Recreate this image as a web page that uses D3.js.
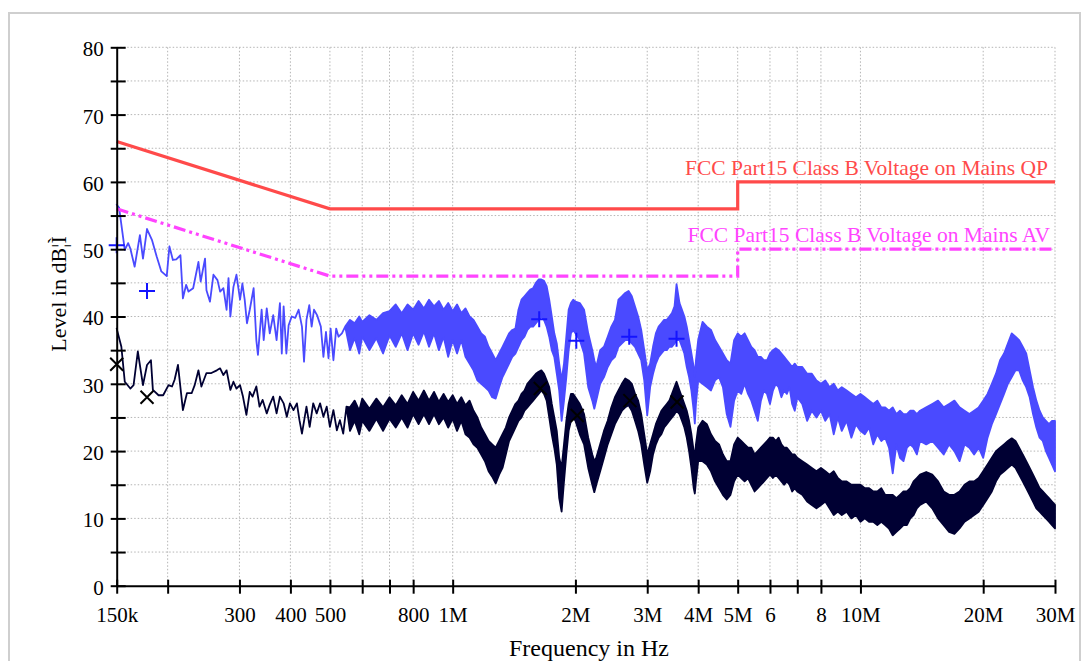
<!DOCTYPE html>
<html>
<head>
<meta charset="utf-8">
<script src="https://cdn.jsdelivr.net/npm/d3@7"></script>
<style>
  body { margin: 0; background: #fff; }
  svg { display: block; font-family: "Liberation Serif", "Times New Roman", serif; }
  .grid line { stroke: #b5b5b5; stroke-width: 1; stroke-dasharray: 1.5,2; }
  .axis path, .axis line { stroke: #000; stroke-width: 2; }
  .axis text { font-size: 21px; fill: #000; font-family: "Liberation Serif", "Times New Roman", serif; }
</style>
</head>
<body>
<div id="chart"></div>
<script>
// frequencies in MHz, levels in dBuV
const xTicks = [0.15, 0.2, 0.3, 0.4, 0.5, 0.6, 0.7, 0.8, 1, 2, 3, 4, 5, 6, 7, 8, 10, 20, 30];
const xTickLabels = ['150k', '', '300', '400', '500', '', '', '800', '1M', '2M', '3M', '4M', '5M', '6', '', '8', '10M', '20M', '30M'];
const yTicks = [0, 5, 10, 15, 20, 25, 30, 35, 40, 45, 50, 55, 60, 65, 70, 75, 80];
const yTickLabels = ['0', '', '10', '', '20', '', '30', '', '40', '', '50', '', '60', '', '70', '', '80'];

const qpLimit = [[0.15, 66], [0.5, 56], [5, 56], [5, 60], [30, 60]];
const avLimit = [[0.15, 56], [0.5, 46], [5, 46], [5, 50], [30, 50]];
const qpLabel = 'FCC Part15 Class B Voltage on Mains QP';
const avLabel = 'FCC Part15 Class B Voltage on Mains AV';

// peak scan: [f, level] where it is a single line, [f, low, high] where it is a dense band
const peakScan = [
  [0.150,56.6],[0.152,56.2],[0.157,49.9],[0.160,50.9],[0.162,50.1],[0.166,47.4],[0.171,52.1],[0.174,48.6],
  [0.178,53.0],[0.183,51.4],[0.188,48.9],[0.193,46.7],[0.199,46.0],[0.202,50.4],[0.206,48.4],[0.210,48.5],
  [0.215,49.1],[0.218,42.7],[0.222,44.7],[0.225,43.7],[0.231,44.2],[0.238,48.1],[0.241,45.2],[0.247,48.6],
  [0.249,43.9],[0.254,42.2],[0.259,46.2],[0.265,45.4],[0.269,43.7],[0.274,44.2],[0.279,41.0],[0.282,45.7],
  [0.285,40.0],[0.290,44.4],[0.295,46.2],[0.301,42.5],[0.305,44.9],[0.309,42.5],[0.313,39.0],[0.318,41.0],
  [0.325,44.2],[0.330,36.5],[0.333,34.3],[0.340,41.0],[0.344,36.5],[0.350,41.2],[0.356,37.5],[0.363,40.2],
  [0.370,36.5],[0.377,42.0],[0.381,34.5],[0.385,41.5],[0.391,34.5],[0.396,38.7],[0.403,40.0],[0.411,39.8],
  [0.419,41.0],[0.427,38.5],[0.432,33.3],[0.438,39.5],[0.445,41.7],[0.451,38.5],[0.457,41.0],[0.465,40.2],
  [0.475,38.5],[0.482,34.0],[0.489,37.7],[0.496,33.8],[0.502,38.2],[0.510,33.5],[0.518,38.2],[0.525,37.0],
  [0.535,37.5],[0.545,38.5],
  [0.56,35.0,39.5],[0.575,36.8,39.0],[0.59,34.5,40.0],[0.60,37.0,39.2],[0.625,35.0,40.2],[0.65,36.8,39.5],
  [0.675,34.5,40.5],[0.70,37.2,40.8],[0.725,35.5,41.8],[0.75,37.5,40.5],[0.775,35.0,41.8],[0.80,37.5,41.0],
  [0.825,35.8,42.3],[0.85,37.8,41.2],[0.875,35.5,42.5],[0.90,37.5,41.5],[0.925,35.0,42.3],[0.95,37.0,41.0],
  [0.975,34.0,42.0],[1.0,36.5,40.8],[1.025,34.5,41.8],[1.05,36.5,40.5],[1.075,34.0,41.2],[1.10,33.0,40.0],
  [1.125,32.0,39.5],[1.15,30.5,38.5],[1.175,30.0,37.5],[1.20,29.5,37.0],[1.225,29.0,35.5],[1.25,28.0,34.5],
  [1.275,27.8,33.5],[1.30,29.5,34.5],[1.325,31.0,35.5],[1.35,32.0,36.5],[1.375,33.0,37.5],[1.40,34.0,38.0],
  [1.425,34.5,38.2],[1.45,35.5,41.0],[1.475,36.5,42.5],[1.50,37.0,43.0],[1.525,38.0,43.5],[1.55,38.5,44.0],
  [1.575,38.5,44.2],[1.60,39.0,45.0],[1.625,39.5,45.5],[1.65,40.0,45.5],[1.675,39.5,45.3],[1.70,38.5,44.5],
  [1.725,37.0,42.5],[1.75,35.0,40.0],[1.775,34.0,37.5],[1.80,31.5,36.0],[1.825,29.0,33.0],[1.85,24.5,30.5],
  [1.875,27.5,33.0],[1.90,31.0,37.0],[1.925,35.0,41.0],[1.95,37.5,42.0],[1.975,38.0,42.5],[2.0,37.5,42.2],
  [2.05,36.5,42.0],[2.10,34.5,41.0],[2.15,29.5,37.5],[2.20,27.5,35.0],[2.225,26.3,33.5],[2.25,27.5,32.5],
  [2.30,30.0,35.0],[2.35,31.0,35.5],[2.40,32.5,37.0],[2.45,33.5,38.5],[2.50,34.0,39.5],[2.55,35.5,42.5],
  [2.60,36.0,43.0],[2.65,36.5,43.5],[2.70,36.5,43.8],[2.75,36.0,43.0],[2.80,35.5,41.5],[2.85,34.5,40.0],
  [2.90,33.5,38.0],[2.95,30.5,35.0],[3.00,25.3,32.0],[3.05,29.5,33.0],[3.10,31.5,35.5],[3.15,33.0,37.5],
  [3.20,34.0,38.5],[3.25,34.5,39.0],[3.30,35.0,39.5],[3.35,35.0,39.5],[3.40,35.5,40.0],[3.45,35.5,40.5],
  [3.50,36.0,41.5],[3.54,36.5,44.8],[3.60,36.5,42.0],[3.65,35.5,41.0],[3.70,34.5,40.0],[3.75,32.5,38.5],
  [3.80,31.0,36.5],[3.85,29.0,34.5],[3.90,26.0,32.5],[3.925,24.1,31.0],[3.95,27.0,33.5],[4.0,30.5,36.5],
  [4.1,30.0,39.2],[4.2,29.5,38.5],[4.3,29.0,38.0],[4.4,30.5,36.5],[4.5,31.0,35.5],[4.6,29.5,34.5],
  [4.7,25.5,33.5],[4.8,23.6,33.0],[4.9,27.5,36.5],[5.0,29.0,37.5],[5.1,28.5,37.0],[5.2,30.0,37.5],
  [5.3,28.5,36.5],[5.4,27.5,35.5],[5.5,26.0,35.0],[5.6,24.5,34.0],[5.7,27.5,34.0],[5.8,29.0,33.5],
  [5.9,28.5,33.5],[6.0,27.0,34.5],[6.1,29.0,35.0],[6.2,30.0,35.3],[6.3,29.5,35.0],[6.4,28.0,34.5],
  [6.5,29.0,34.0],[6.6,28.5,33.5],[6.7,29.5,33.0],[6.8,27.0,32.5],[6.9,26.0,33.0],[7.0,28.0,32.5],
  [7.2,27.0,32.5],[7.4,24.5,31.5],[7.6,26.0,31.5],[7.8,25.0,30.5],[8.0,26.0,30.0],[8.2,24.5,30.5],
  [8.4,25.5,29.5],[8.6,22.5,30.0],[8.8,25.0,29.0],[9.0,23.0,29.5],[9.25,24.5,29.0],[9.5,22.0,28.5],
  [9.75,24.0,28.0],[10.0,23.0,28.5],[10.25,22.5,28.0],[10.5,23.5,27.5],[10.75,21.0,27.0],[11.0,22.5,27.5],
  [11.25,21.5,26.5],[11.5,22.0,26.5],[11.75,20.5,26.0],[12.0,16.7,26.5],[12.25,21.0,25.5],[12.5,19.0,26.0],
  [12.75,18.5,25.5],[13.0,20.5,25.5],[13.25,21.0,26.0],[13.5,20.5,26.0],[13.75,19.5,25.5],[14.0,21.5,26.0],
  [14.5,21.0,26.5],[15.0,21.5,27.0],[15.5,20.5,27.5],[16.0,19.5,26.5],[16.5,21.0,27.0],[17.0,20.0,27.5],
  [17.5,18.5,26.5],[18.0,21.0,26.0],[18.5,20.5,25.5],[19.0,19.5,26.0],[19.5,20.5,26.5],[20.0,19.0,27.5],
  [20.5,22.0,28.5],[21.0,24.0,30.0],[21.5,25.5,31.5],[22.0,27.0,33.5],[22.5,28.5,34.5],[23.0,30.0,36.0],
  [23.5,31.0,37.5],[24.0,32.0,37.0],[24.5,32.0,36.5],[25.0,30.5,35.5],[25.5,29.5,34.5],[26.0,28.0,32.0],
  [26.5,25.5,29.5],[27.0,23.5,27.5],[27.5,22.0,26.0],[28.0,21.5,25.0],[28.5,20.0,24.5],[29.0,19.0,24.0],
  [29.5,18.0,24.5],[30.0,17.0,24.5]
];

// average scan, same layout
const avgScan = [
  [0.150,38.2],[0.154,35.5],[0.157,30.3],[0.162,29.3],[0.165,29.8],[0.169,34.8],[0.174,29.8],[0.178,32.8],
  [0.182,33.5],[0.184,29.1],[0.190,28.3],[0.195,28.3],[0.201,29.8],[0.205,29.6],[0.208,30.6],[0.212,32.8],
  [0.218,26.1],[0.223,28.6],[0.229,28.6],[0.233,29.8],[0.238,32.0],[0.242,29.6],[0.249,31.6],[0.256,31.6],
  [0.264,32.0],[0.269,32.3],[0.274,31.3],[0.279,32.0],[0.285,29.1],[0.290,30.3],[0.295,29.3],[0.301,29.8],
  [0.306,28.1],[0.312,25.4],[0.318,28.8],[0.323,28.1],[0.330,29.6],[0.336,26.6],[0.342,27.6],[0.350,25.6],
  [0.356,26.9],[0.363,28.1],[0.370,25.6],[0.377,28.1],[0.385,27.1],[0.392,25.1],[0.399,27.1],[0.407,26.1],
  [0.415,27.1],[0.421,24.6],[0.427,22.6],[0.438,26.6],[0.446,23.6],[0.455,27.1],[0.464,25.6],[0.473,27.1],
  [0.482,25.1],[0.491,26.6],[0.500,23.6],[0.510,26.1],[0.520,23.1],[0.529,24.6],[0.539,22.6],[0.549,26.6],
  [0.56,23.0,26.5],[0.575,24.5,27.5],[0.59,22.5,26.0],[0.60,24.5,27.8],[0.625,23.0,26.3],[0.65,24.8,27.8],
  [0.675,23.0,26.5],[0.70,24.8,28.0],[0.725,23.5,26.8],[0.75,25.0,28.3],[0.775,23.5,27.0],[0.80,25.5,28.8],
  [0.825,24.0,27.5],[0.85,25.5,29.0],[0.875,24.0,27.5],[0.90,25.5,28.8],[0.925,24.0,27.3],[0.95,25.0,28.5],
  [0.975,23.5,27.3],[1.0,24.8,28.3],[1.025,23.0,27.0],[1.05,24.5,28.0],[1.075,22.5,26.8],[1.10,22.0,27.5],
  [1.125,21.0,26.0],[1.15,20.5,25.0],[1.175,19.5,23.5],[1.20,18.5,22.5],[1.225,17.0,21.5],[1.25,16.2,21.0],
  [1.275,15.2,20.5],[1.30,16.5,21.5],[1.325,17.5,22.5],[1.35,19.5,23.5],[1.375,21.5,25.0],[1.40,22.5,26.0],
  [1.425,23.5,27.0],[1.45,24.5,27.5],[1.475,25.0,28.5],[1.50,26.0,29.0],[1.525,26.5,30.0],[1.55,27.0,30.5],
  [1.575,27.5,31.0],[1.60,28.0,31.5],[1.625,28.5,31.8],[1.65,29.0,32.0],[1.675,28.5,31.5],[1.70,27.5,30.5],
  [1.725,25.0,29.5],[1.75,22.5,27.0],[1.775,20.5,25.0],[1.80,18.0,23.0],[1.825,13.0,19.0],[1.85,11.0,17.5],
  [1.875,15.5,21.0],[1.90,19.5,24.5],[1.925,23.0,27.0],[1.95,24.5,28.5],[1.975,25.0,28.5],[2.0,24.5,28.0],
  [2.05,22.5,27.0],[2.10,21.0,25.5],[2.15,17.5,22.0],[2.20,15.0,19.5],[2.225,13.9,18.5],[2.25,15.0,19.0],
  [2.30,17.0,21.0],[2.35,19.0,23.0],[2.40,21.0,24.5],[2.45,22.5,26.5],[2.50,24.0,28.0],[2.55,25.0,29.0],
  [2.60,26.0,30.0],[2.65,26.5,30.8],[2.70,26.8,30.5],[2.75,26.0,30.0],[2.80,24.5,28.5],[2.85,23.0,27.5],
  [2.90,21.0,25.5],[2.95,18.0,22.5],[3.00,15.3,19.5],[3.05,17.0,21.0],[3.10,19.5,22.5],[3.15,21.0,24.0],
  [3.20,22.0,25.0],[3.25,22.5,26.0],[3.30,23.5,26.5],[3.35,24.0,27.0],[3.40,24.5,27.5],[3.45,25.0,28.5],
  [3.50,25.5,29.5],[3.54,26.0,30.3],[3.60,25.5,29.0],[3.65,24.5,28.0],[3.70,23.5,27.0],[3.75,22.0,26.0],
  [3.80,20.0,24.5],[3.85,17.5,22.5],[3.90,14.5,20.0],[3.925,13.7,19.0],[3.95,15.5,21.0],[4.0,18.5,23.5],
  [4.1,18.5,24.5],[4.2,18.0,24.0],[4.3,17.0,22.5],[4.4,15.5,21.5],[4.5,14.5,21.0],[4.6,13.5,19.5],
  [4.7,12.8,18.5],[4.8,13.5,18.5],[4.9,15.5,21.0],[5.0,16.5,22.0],[5.1,16.0,21.5],[5.2,15.5,21.0],
  [5.3,16.0,20.5],[5.4,15.0,20.5],[5.5,14.0,19.5],[5.6,14.5,20.0],[5.7,15.0,20.5],[5.8,15.5,21.0],
  [5.9,16.0,21.5],[6.0,16.5,22.0],[6.1,16.0,22.0],[6.2,16.5,21.5],[6.3,16.0,22.0],[6.4,15.5,21.0],
  [6.5,15.0,20.5],[6.6,15.5,20.5],[6.7,15.0,20.0],[6.8,14.0,19.5],[6.9,14.5,19.5],[7.0,14.0,19.0],
  [7.2,13.5,18.5],[7.4,12.5,18.0],[7.6,12.0,17.5],[7.8,11.5,17.0],[8.0,12.0,17.5],[8.2,12.5,17.0],
  [8.4,11.5,16.5],[8.6,10.5,17.0],[8.8,11.0,16.0],[9.0,10.5,15.5],[9.25,11.0,15.5],[9.5,10.0,15.0],
  [9.75,10.5,15.0],[10.0,9.5,15.0],[10.25,10.0,14.5],[10.5,9.5,14.5],[10.75,9.5,14.0],[11.0,9.0,14.0],
  [11.25,9.5,14.5],[11.5,9.0,13.5],[11.75,8.5,13.5],[12.0,7.5,13.5],[12.25,8.0,13.0],[12.5,8.5,13.5],
  [12.75,9.0,14.0],[13.0,9.0,14.0],[13.25,10.0,14.5],[13.5,10.5,15.5],[13.75,11.5,16.0],[14.0,12.0,16.5],
  [14.5,12.5,16.9],[15.0,11.5,16.5],[15.5,10.0,15.5],[16.0,9.0,14.0],[16.5,8.0,13.5],[17.0,7.7,13.5],
  [17.5,8.5,14.0],[18.0,9.5,15.0],[18.5,10.0,15.5],[19.0,10.5,15.5],[19.5,11.0,16.0],[20.0,12.0,17.0],
  [20.5,13.0,18.0],[21.0,14.0,19.0],[21.5,15.5,20.0],[22.0,16.5,20.5],[22.5,17.0,21.0],[23.0,17.5,21.5],
  [23.5,18.0,21.9],[24.0,17.5,21.5],[24.5,16.5,20.5],[25.0,15.5,19.5],[25.5,14.5,18.5],[26.0,13.5,17.5],
  [26.5,12.5,16.5],[27.0,11.5,15.5],[27.5,11.0,14.5],[28.0,10.5,14.0],[28.5,10.0,13.5],[29.0,9.5,13.0],
  [29.5,9.0,12.5],[30.0,8.5,12.0]
];

// final measurements
const qpFinal = [[0.150, 50.6], [0.178, 43.8], [1.63, 39.6], [2.01, 36.4], [2.71, 37.0], [3.54, 36.7]];
const avFinal = [[0.150, 32.9], [0.178, 28.0], [1.64, 29.3], [2.02, 25.3], [2.72, 27.5], [3.55, 27.3]];

const W = 1089, H = 661;
const margin = { top: 47.3, right: 34, bottom: 75.3, left: 116.7 };
const width = W - margin.left - margin.right;
const height = H - margin.top - margin.bottom;

const root = d3.select('#chart').append('svg')
    .attr('width', W)
    .attr('height', H);

// outer frame
root.append('rect')
    .attr('x', 9).attr('y', 13)
    .attr('width', 1071).attr('height', 700)
    .attr('fill', 'none')
    .attr('stroke', '#cfcfcf')
    .attr('stroke-width', 2);

const svg = root.append('g')
    .attr('transform', `translate(${margin.left},${margin.top})`);

const x = d3.scaleLog().domain([0.15, 30]).range([0, width]);
const y = d3.scaleLinear().domain([0, 80]).range([height, 0]);

// grid
const grid = svg.append('g').attr('class', 'grid');
grid.selectAll('.vg')
    .data(xTicks.slice(1))
    .enter().append('line')
    .attr('x1', d => x(d)).attr('x2', d => x(d))
    .attr('y1', 0).attr('y2', height);
grid.selectAll('.hg')
    .data(yTicks.slice(1))
    .enter().append('line')
    .attr('x1', 0).attr('x2', width)
    .attr('y1', d => y(d)).attr('y2', d => y(d));

const band = d3.area()
    .x(d => x(d[0]))
    .y0(d => y(d[1]))
    .y1(d => y(d.length > 2 ? d[2] : d[1]));

svg.append('path')
    .datum(avgScan)
    .attr('d', band)
    .attr('fill', '#000033')
    .attr('stroke', '#000033')
    .attr('stroke-width', 1.8)
    .attr('stroke-linejoin', 'round');

svg.append('path')
    .datum(peakScan)
    .attr('d', band)
    .attr('fill', '#4a4aff')
    .attr('stroke', '#4a4aff')
    .attr('stroke-width', 1.8)
    .attr('stroke-linejoin', 'round');

// limit lines
const limitLine = d3.line().x(d => x(d[0])).y(d => y(d[1]));

svg.append('path')
    .datum(qpLimit)
    .attr('d', limitLine)
    .attr('fill', 'none')
    .attr('stroke', '#ff4a4a')
    .attr('stroke-width', 3.2);

svg.append('path')
    .datum(avLimit)
    .attr('d', limitLine)
    .attr('fill', 'none')
    .attr('stroke', '#ff44ff')
    .attr('stroke-width', 3.2)
    .attr('stroke-dasharray', '12,4,3,4,3,4');

svg.append('text')
    .attr('x', x(30) - 7)
    .attr('y', y(60) - 7)
    .attr('text-anchor', 'end')
    .style('font-size', '21.5px')
    .attr('fill', '#ff4a4a')
    .text(qpLabel);

svg.append('text')
    .attr('x', x(30) - 5)
    .attr('y', y(50) - 7)
    .attr('text-anchor', 'end')
    .style('font-size', '21.5px')
    .attr('fill', '#ff44ff')
    .text(avLabel);

// final measurement markers
svg.selectAll('.qp-mark')
    .data(qpFinal)
    .enter().append('path')
    .attr('class', 'qp-mark')
    .attr('transform', d => `translate(${x(d[0])},${y(d[1])})`)
    .attr('d', 'M-8,0H8M0,-8V8')
    .attr('stroke', '#1414ff')
    .attr('stroke-width', 2)
    .attr('fill', 'none');

svg.selectAll('.av-mark')
    .data(avFinal)
    .enter().append('path')
    .attr('class', 'av-mark')
    .attr('transform', d => `translate(${x(d[0])},${y(d[1])})`)
    .attr('d', 'M-6.5,-6.5L6.5,6.5M-6.5,6.5L6.5,-6.5')
    .attr('stroke', '#000')
    .attr('stroke-width', 2)
    .attr('fill', 'none');

// axes
const yAxis = d3.axisLeft(y)
    .tickValues(yTicks)
    .tickFormat((d, i) => yTickLabels[i])
    .tickSize(0)
    .tickPadding(13);

const yG = svg.append('g').attr('class', 'axis').call(yAxis);
yG.selectAll('.tick line').attr('x1', -6).attr('x2', 9);
yG.selectAll('.tick text').attr('dy', '0.4em');

const xAxis = d3.axisBottom(x)
    .tickValues(xTicks)
    .tickFormat((d, i) => xTickLabels[i])
    .tickSize(0)
    .tickPadding(21);

const xG = svg.append('g')
    .attr('class', 'axis')
    .attr('transform', `translate(0,${height})`)
    .call(xAxis);
xG.selectAll('.tick line').attr('y1', -6).attr('y2', 8);

svg.append('text')
    .attr('x', 589 - margin.left)
    .attr('y', 656 - margin.top)
    .attr('text-anchor', 'middle')
    .style('font-size', '24px')
    .text('Frequency in Hz');

svg.append('text')
    .attr('transform', 'rotate(-90)')
    .attr('x', -(294 - margin.top))
    .attr('y', 66 - margin.left)
    .attr('text-anchor', 'middle')
    .style('font-size', '22px')
    .text('Level in dB¦Ì');
</script>
</body>
</html>
